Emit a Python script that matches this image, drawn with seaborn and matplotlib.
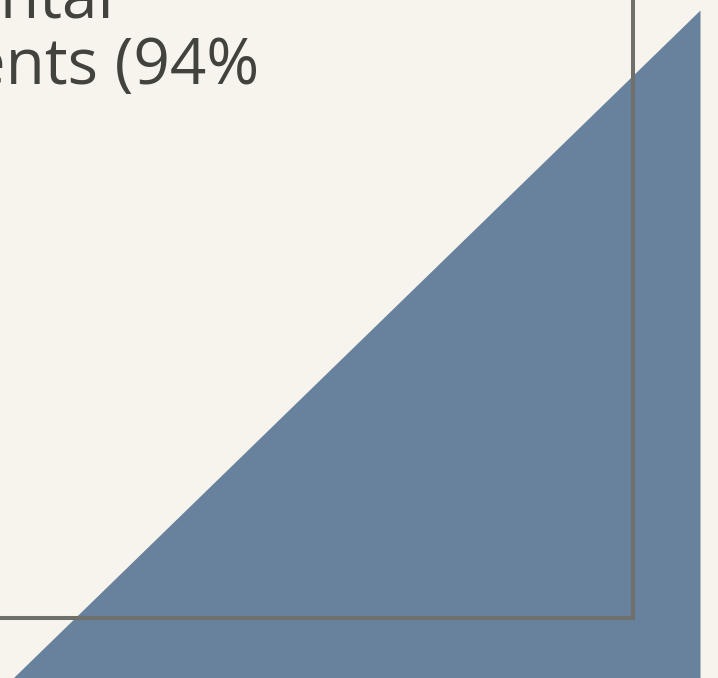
import matplotlib
matplotlib.use("Agg")
import matplotlib.pyplot as plt
import seaborn as sns
import pandas as pd

# Data (cropped view of an area chart)
share_x = [0, 100]
share_y = [0, 100]
label_lines = ["environmental", "events (94%"]

BG = "#f6f4ed"
FILL = "#68819d"
FRAME = "#70706a"
TEXT = "#43433d"

sns.set_theme(style="white")
plt.rcParams["font.family"] = ["Open Sans", "DejaVu Sans"]

W, H = 718, 678
fig = plt.figure(figsize=(W / 100, H / 100), dpi=100, facecolor=BG)

ax = fig.add_axes([0, 0, 1, 1])
ax.set_facecolor(BG)
df = pd.DataFrame({"x": share_x, "y": share_y})
sns.lineplot(data=df, x="x", y="y", ax=ax, color=FILL, linewidth=0)
ax.fill_between(df["x"], 0, df["y"], color=FILL, linewidth=0)
# map data to pixels: x 0 -> 13px, 100 -> 700px ; y 0 -> 0px, 100 -> 668px
sx = (700 - 13) / 100
sy = 668 / 100
ax.set_xlim(-13 / sx, (W - 13) / sx)
ax.set_ylim(0, H / sy)
ax.axis("off")

# frame axes (box whose right & bottom edges are visible)
fr = fig.add_axes([-0.5, 60 / H, 0.5 + 633 / W, 2])
fr.patch.set_alpha(0)
for s in fr.spines.values():
    s.set_visible(True)
    s.set_color(FRAME)
    s.set_linewidth(2.9)
fr.set_xticks([])
fr.set_yticks([])

fig.text(114 / W, 1 - 17 / H, label_lines[0], ha="right", va="baseline",
         fontsize=46, color=TEXT)
fig.text(259 / W, 1 - 84 / H, label_lines[1], ha="right", va="baseline",
         fontsize=46, color=TEXT)

fig.savefig("out.png", dpi=100, facecolor=BG)
